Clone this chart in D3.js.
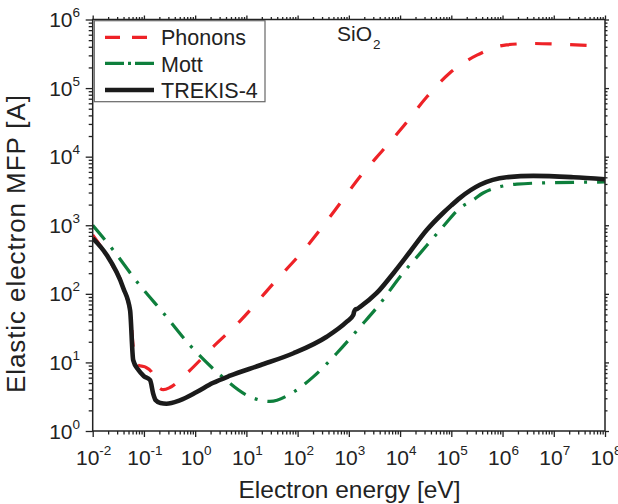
<!DOCTYPE html>
<html><head><meta charset="utf-8">
<script src="https://cdn.jsdelivr.net/npm/d3@7"></script>
<style>body{margin:0;background:#fff} svg{display:block}</style>
</head><body><svg id="c" width="618" height="504"></svg>
<script>
// ---- data (energy in eV, MFP in Angstrom) ----
const phononE   = [0.01, 0.0219, 0.0457, 0.055, 0.0617, 0.0776, 0.105, 0.141, 0.18, 0.204, 0.24, 0.32, 0.68, 2.26, 7.5, 33.5, 151, 676, 1660, 4680, 11500, 33100, 93300, 316000, 1.2e6, 4e6, 1.3e7, 1e8];
const phononMFP = [724, 295, 91, 50, 17, 9.1, 8.6, 7.3, 5.0, 4.2, 4.0, 4.3, 6.9, 17, 40, 141, 490, 2090, 5130, 12600, 27500, 74100, 166000, 302000, 427000, 447000, 436000, 407000];
const mottE   = [0.01, 0.025, 0.0724, 0.24, 0.79, 3.05, 11.7, 28.8, 83, 204, 575, 1660, 4070, 1e4, 24500, 69000, 148000, 269000, 417000, 1.9e6, 8.5e6, 1e8];
const mottMFP = [1000, 437, 151, 52.5, 17.8, 6.6, 3.16, 2.7, 3.7, 6.2, 13.5, 33, 72, 178, 389, 955, 1780, 2340, 2950, 3980, 4170, 4270];
const trekisE   = [0.01, 0.0186, 0.0398, 0.0537, 0.0617, 0.0776, 0.1, 0.132, 0.151, 0.17, 0.21, 0.275, 0.5, 1.07, 2.2, 4.8, 18.6, 83, 370, 912, 1220, 1260, 1350, 1460, 1660, 3470, 7410, 15500, 33100, 69000, 100000, 148000, 363000, 1.2e6, 4e6, 2.4e7, 1e8];
const trekisMFP = [646, 372, 120, 57.5, 10.8, 7.8, 6.3, 5.5, 3.55, 2.8, 2.55, 2.5, 2.8, 3.7, 5.0, 6.4, 9.1, 13.6, 23.7, 39.3, 49, 54, 59.6, 60.5, 64.6, 102, 200, 407, 851, 1510, 1950, 2510, 3890, 5010, 5250, 5010, 4680];
const seriesNames = ["Phonons", "Mott", "TREKIS-4"];
const xTickValues = [1e-2, 1e-1, 1e0, 1e1, 1e2, 1e3, 1e4, 1e5, 1e6, 1e7, 1e8];
const yTickValues = [1e0, 1e1, 1e2, 1e3, 1e4, 1e5, 1e6];
const xTickExp = ["-2", "-1", "0", "1", "2", "3", "4", "5", "6", "7", "8"];
const yTickExp = ["0", "1", "2", "3", "4", "5", "6"];
const xLabel = "Electron energy [eV]";
const yLabel = "Elastic electron MFP [A]";

// ---- layout ----
const FONT = "'Liberation Sans', Arial, sans-serif";
const L = 92.7, R = 605, T = 19.5, B = 431;
const svg = d3.select("#c");
const x = d3.scaleLog().domain([1e-2, 1e8]).range([L, R]);
const y = d3.scaleLog().domain([1, 1e6]).range([B, T]);

function minors(vals) {
  const out = [];
  for (let i = 0; i < vals.length - 1; i++) for (let m = 2; m <= 9; m++) out.push(vals[i] * m);
  return out;
}
const xMinor = minors(xTickValues), yMinor = minors(yTickValues);

function styleAxis(g) {
  g.select(".domain").remove();
  g.selectAll("line").attr("stroke", "#222").attr("stroke-width", 1.3);
}
// bottom
svg.append("g").attr("transform", `translate(0,${B})`)
  .call(d3.axisBottom(x).tickValues(xTickValues).tickFormat("").tickSize(6)).call(styleAxis);
svg.append("g").attr("transform", `translate(0,${B})`)
  .call(d3.axisBottom(x).tickValues(xMinor).tickFormat("").tickSize(3.5)).call(styleAxis);
// top
svg.append("g").attr("transform", `translate(0,${T})`)
  .call(d3.axisTop(x).tickValues(xTickValues).tickFormat("").tickSize(4)).call(styleAxis);
svg.append("g").attr("transform", `translate(0,${T})`)
  .call(d3.axisTop(x).tickValues(xMinor).tickFormat("").tickSize(2.5)).call(styleAxis);
// left
svg.append("g").attr("transform", `translate(${L},0)`)
  .call(d3.axisLeft(y).tickValues(yTickValues).tickFormat("").tickSize(7)).call(styleAxis);
svg.append("g").attr("transform", `translate(${L},0)`)
  .call(d3.axisLeft(y).tickValues(yMinor).tickFormat("").tickSize(4)).call(styleAxis);
// right
svg.append("g").attr("transform", `translate(${R},0)`)
  .call(d3.axisRight(y).tickValues(yTickValues).tickFormat("").tickSize(4)).call(styleAxis);
svg.append("g").attr("transform", `translate(${R},0)`)
  .call(d3.axisRight(y).tickValues(yMinor).tickFormat("").tickSize(2.5)).call(styleAxis);

// tick labels
xTickValues.forEach((v, i) => {
  const t = svg.append("text").attr("x", x(v) + 1).attr("y", 465)
    .attr("text-anchor", "middle").attr("font-family", FONT).attr("font-size", 21).attr("fill", "#222");
  t.append("tspan").text("10");
  t.append("tspan").attr("dy", -10).attr("font-size", 13.5).text(xTickExp[i]);
});
yTickValues.forEach((v, i) => {
  const t = svg.append("text").attr("x", 80).attr("y", y(v) + 7.5)
    .attr("text-anchor", "end").attr("font-family", FONT).attr("font-size", 21).attr("fill", "#222");
  t.append("tspan").text("10");
  t.append("tspan").attr("dy", -10).attr("font-size", 13.5).text(yTickExp[i]);
});

// axis labels
svg.append("text").attr("x", 349.5).attr("y", 498).attr("text-anchor", "middle")
  .attr("font-family", FONT).attr("font-size", 24.5).attr("fill", "#222").text(xLabel);
svg.append("text").attr("transform", "translate(25,244) rotate(-90)").attr("text-anchor", "middle")
  .attr("font-family", FONT).attr("font-size", 26).attr("fill", "#222")
  .attr("textLength", 298).attr("lengthAdjust", "spacing").text(yLabel);

// clip
svg.append("clipPath").attr("id", "clip").append("rect")
  .attr("x", L).attr("y", T).attr("width", R - L).attr("height", B - T);

const line = d3.line().x(d => x(d[0])).y(d => y(d[1])).curve(d3.curveMonotoneX);
const series = [
  { pts: d3.zip(phononE, phononMFP), color: "#ee2227", w: 3.2, dash: "16.5,18.5", ldash: "15,12" },
  { pts: d3.zip(mottE, mottMFP), color: "#0e7f3c", w: 3.2, dash: "19,10,3,10", ldash: "19,4,3,4" },
  { pts: d3.zip(trekisE, trekisMFP), color: "#1b1b1b", w: 4.6, dash: null, ldash: null }
];
const plot = svg.append("g").attr("clip-path", "url(#clip)");
series.forEach(s => {
  plot.append("path").attr("d", line(s.pts)).attr("fill", "none")
    .attr("stroke", s.color).attr("stroke-width", s.w)
    .attr("stroke-dasharray", s.dash).attr("stroke-linejoin", "round");
});

// frame
svg.append("rect").attr("x", L).attr("y", T).attr("width", R - L).attr("height", B - T)
  .attr("fill", "none").attr("stroke", "#222").attr("stroke-width", 1.5);

// legend
svg.append("rect").attr("x", 94.3).attr("y", 20.7).attr("width", 170.7).attr("height", 81)
  .attr("fill", "#fff").attr("stroke", "#666").attr("stroke-width", 1.2);
const legY = [37.3, 63.3, 90];
const legTY = [45, 71.7, 98.3];
series.forEach((s, i) => {
  svg.append("line").attr("x1", 105).attr("x2", 154).attr("y1", legY[i]).attr("y2", legY[i])
    .attr("stroke", s.color).attr("stroke-width", s.w).attr("stroke-dasharray", s.ldash);
  svg.append("text").attr("x", 161).attr("y", legTY[i]).attr("font-family", FONT)
    .attr("font-size", 21.5).attr("fill", "#222").text(seriesNames[i]);
});

// material label
const mt = svg.append("text").attr("x", 337).attr("y", 41).attr("font-family", FONT)
  .attr("font-size", 21).attr("fill", "#222");
mt.append("tspan").text("SiO");
mt.append("tspan").attr("dy", 8).attr("dx", 1).attr("font-size", 13.5).text("2");
</script></body></html>
